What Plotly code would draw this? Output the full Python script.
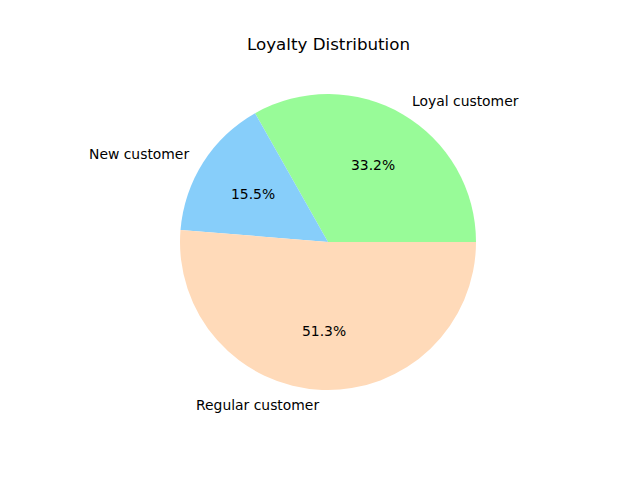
import math
import plotly.graph_objects as go

labels = ["Loyal customer", "New customer", "Regular customer"]
values = [33.2, 15.5, 51.3]
colors = ["#98FB98", "#87CEFA", "#FFDAB9"]
title = "Loyalty Distribution"

W, H = 640, 480
cx, cy, r = 328, 242, 148  # pixel center (from top) and radius

dom_x = [(cx - r) / W, (cx + r) / W]
dom_y = [(H - cy - r) / H, (H - cy + r) / H]

total = sum(values)

fig = go.Figure(go.Pie(
    labels=labels, values=values, sort=False, direction="counterclockwise",
    rotation=90 - values[0] / total * 360,
    marker=dict(colors=colors, line=dict(width=0)),
    textinfo="none", showlegend=False, domain=dict(x=dom_x, y=dom_y),
    hoverinfo="label+percent",
))

annotations = []
start = 0.0
font = dict(family="DejaVu Sans", size=13.9, color="black")
for lab, v in zip(labels, values):
    mid = math.radians((start + v / 2) / total * 360)
    start += v
    px = cx + 0.6 * r * math.cos(mid)
    py = cy - 0.6 * r * math.sin(mid)
    annotations.append(dict(x=px / W, y=1 - py / H, xref="paper", yref="paper",
                            text=f"{v / total * 100:.1f}%", showarrow=False,
                            xanchor="center", yanchor="middle", font=font))
    lx = cx + 1.1 * r * math.cos(mid)
    ly = cy - 1.1 * r * math.sin(mid)
    annotations.append(dict(x=lx / W, y=1 - ly / H, xref="paper", yref="paper",
                            text=lab, showarrow=False,
                            xanchor="left" if math.cos(mid) > 0 else "right",
                            yanchor="middle", font=font))

annotations.append(dict(x=cx / W, y=1 - 44 / H, xref="paper", yref="paper",
                        text=title, showarrow=False, xanchor="center",
                        yanchor="middle",
                        font=dict(family="DejaVu Sans", size=16.7, color="black")))

fig.update_layout(width=W, height=H, margin=dict(l=0, r=0, t=0, b=0),
                  paper_bgcolor="white", plot_bgcolor="white",
                  annotations=annotations)
fig.write_html("out.html", config={"displayModeBar": False},
               post_script="document.body.style.margin='0';")
